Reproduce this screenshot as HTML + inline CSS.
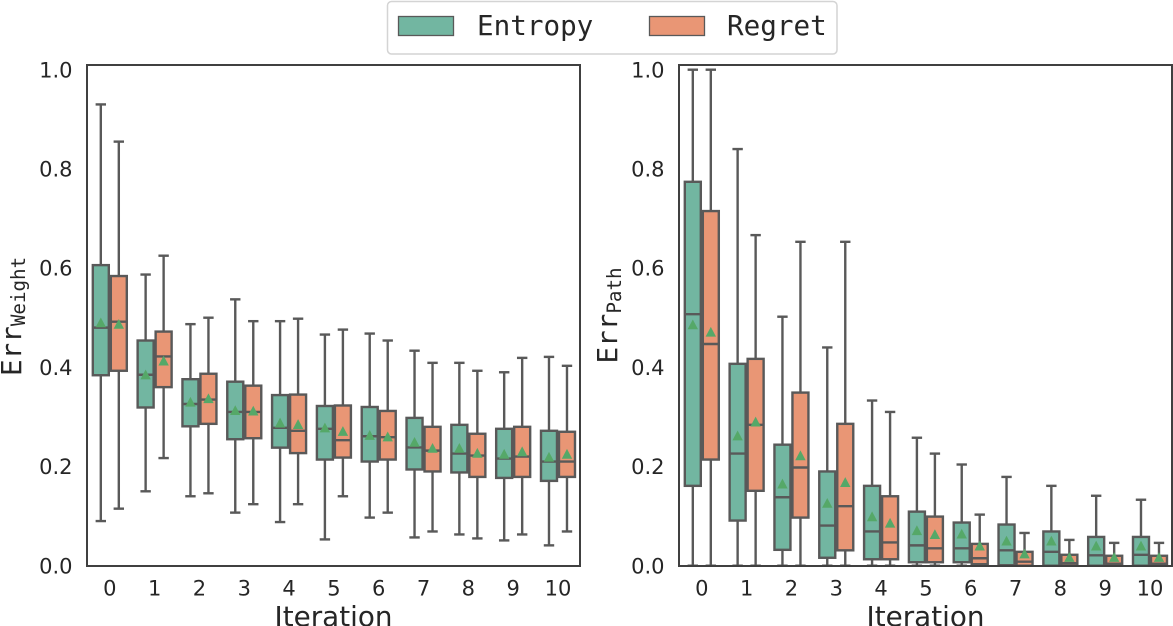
<!DOCTYPE html>
<html lang="en">
<head>
<meta charset="utf-8">
<title>Err Weight and Err Path by Iteration</title>
<style>
html,body{margin:0;padding:0;background:#fff;width:1173px;height:626px;overflow:hidden}
svg{display:block}
text{fill:#262626;font-family:"DejaVu Sans","Liberation Sans",sans-serif}
.mono{font-family:"DejaVu Sans Mono","Liberation Mono",monospace}
</style>
</head>
<body>
<svg id="chart" xmlns="http://www.w3.org/2000/svg" width="1173" height="626" viewBox="0 0 1173 626">
  <g id="panel-weight"></g>
  <g id="panel-path"></g>
  <g>
    <rect x="387.5" y="1.5" width="449.5" height="52.5" rx="4" fill="#fff" stroke="#d4d4d4" stroke-width="1.5"/>
    <g>
      <rect x="398.5" y="16.5" width="55" height="19" fill="#72b6a1" stroke="#595959" stroke-width="1.3"/>
      <text class="mono" x="477" y="35" font-size="27.6">Entropy</text>
    </g>
    <g>
      <rect x="649.5" y="16.5" width="55" height="19" fill="#e99675" stroke="#595959" stroke-width="1.3"/>
      <text class="mono" x="727" y="35" font-size="27.6">Regret</text>
    </g>
  </g>
</svg>
<script>
const categories = ['0','1','2','3','4','5','6','7','8','9','10'];
const yTickLabels = ['0.0','0.2','0.4','0.6','0.8','1.0'];
const yTickValues = [0,0.2,0.4,0.6,0.8,1];

const weightEntropyHigh = [.93,.587,.487,.537,.493,.466,.468,.4335,.409,.39,.421];
const weightEntropyQ3 = [.606,.454,.376,.371,.344,.322,.32,.298,.284,.276,.272];
const weightEntropyMedian = [.48,.385,.326,.31,.278,.276,.261,.2385,.226,.216,.21];
const weightEntropyQ1 = [.384,.319,.281,.255,.238,.214,.21,.194,.188,.177,.171];
const weightEntropyLow = [.09,.15,.14,.107,.088,.053,.097,.057,.063,.051,.041];
const weightEntropyMean = [.49,.385,.33,.313,.288,.278,.263,.249,.237,.225,.219];

const weightRegretHigh = [.855,.625,.5,.493,.498,.476,.454,.409,.393,.419,.403];
const weightRegretQ3 = [.584,.472,.387,.363,.345,.323,.312,.28,.266,.28,.27];
const weightRegretMedian = [.492,.422,.335,.31,.272,.253,.259,.232,.222,.22,.21];
const weightRegretQ1 = [.393,.36,.286,.257,.227,.218,.214,.19,.179,.179,.179];
const weightRegretLow = [.115,.217,.146,.124,.124,.14,.107,.069,.055,.063,.069];
const weightRegretMean = [.487,.413,.337,.312,.285,.271,.26,.237,.227,.23,.225];

const pathEntropyHigh = [1,.84,.502,.44,.333,.258,.204,.179,.161,.141,.133];
const pathEntropyQ3 = [.774,.407,.244,.19,.161,.109,.087,.083,.069,.058,.058];
const pathEntropyMedian = [.507,.226,.138,.081,.069,.041,.035,.031,.028,.021,.022];
const pathEntropyQ1 = [.161,.091,.032,.016,.013,.007,.007,.001,0,0,0];
const pathEntropyLow = [0,0,0,0,0,0,0,0,0,0,0];
const pathEntropyMean = [.486,.262,.165,.126,.099,.071,.064,.05,.05,.04,.04];

const pathRegretHigh = [1,.6665,.653,.653,.31,.226,.103,.066,.052,.046,.046];
const pathRegretQ3 = [.715,.417,.349,.286,.14,.099,.044,.028,.022,.02,.02];
const pathRegretMedian = [.447,.284,.198,.12,.047,.035,.015,.008,.005,.004,.004];
const pathRegretQ1 = [.214,.151,.097,.031,.013,.007,.003,0,0,0,0];
const pathRegretLow = [0,0,0,0,0,0,0,0,0,0,0];
const pathRegretMean = [.471,.29,.222,.168,.086,.063,.04,.024,.017,.017,.017];

const NS = 'http://www.w3.org/2000/svg';
const LINE = '#595959';
const plotTop = 65;
const plotBottom = 566;
const plotWidth = 493;

function yScale(v) { return 565.7 - v * 496; }

function make(parent, tag, attrs, txt) {
  const el = document.createElementNS(NS, tag);
  for (const k in attrs) el.setAttribute(k, attrs[k]);
  if (txt !== undefined) el.textContent = txt;
  parent.appendChild(el);
  return el;
}

function drawBox(g, cx, i, s, fill, label) {
  const group = make(g, 'g', {});
  
  
  const st = {stroke: LINE, 'stroke-width': 2.4, fill: 'none'};
  const hw = 8;
  const cap = 5.2;
  make(group, 'line', Object.assign({x1: cx, x2: cx, y1: yScale(s.hi[i]), y2: yScale(s.q3[i])}, st));
  make(group, 'line', Object.assign({x1: cx, x2: cx, y1: yScale(s.q1[i]), y2: yScale(s.lo[i])}, st));
  make(group, 'line', Object.assign({x1: cx - cap, x2: cx + cap, y1: yScale(s.hi[i]), y2: yScale(s.hi[i])}, st));
  make(group, 'line', Object.assign({x1: cx - cap, x2: cx + cap, y1: yScale(s.lo[i]), y2: yScale(s.lo[i])}, st));
  make(group, 'rect', {x: cx - hw, y: yScale(s.q3[i]), width: hw * 2, height: yScale(s.q1[i]) - yScale(s.q3[i]), fill: fill, stroke: LINE, 'stroke-width': 2.4});
  make(group, 'line', Object.assign({x1: cx - hw, x2: cx + hw, y1: yScale(s.med[i]), y2: yScale(s.med[i])}, st));
  const my = yScale(s.mean[i]);
  make(group, 'polygon', {points: (cx - 5.2) + ',' + (my + 4.6) + ' ' + (cx + 5.2) + ',' + (my + 4.6) + ' ' + cx + ',' + (my - 5.2), fill: '#55a868'});
}

function drawPanel(g, left, entropy, regret, titleMain, titleSub, titleX, titleY) {
  const band = plotWidth / categories.length;
  const xScale = function (i) { return left + (i + 0.5) * band + 0.4; };

  yTickValues.forEach(function (v, k) {
    const t = make(g, 'text', {x: left - 14.5, y: yScale(v) + 7.6, 'text-anchor': 'end', 'font-size': 21}, yTickLabels[k]);
    
    
  });

  categories.forEach(function (c, i) {
    drawBox(g, xScale(i) - 9, i, entropy, '#72b6a1', 'entropy');
    drawBox(g, xScale(i) + 9, i, regret, '#e99675', 'regret');
    const t = make(g, 'text', {x: xScale(i), y: 595.5, 'text-anchor': 'middle', 'font-size': 21}, c);
    
    
  });

  const frame = make(g, 'rect', {x: left, y: plotTop, width: plotWidth, height: plotBottom - plotTop, fill: 'none', stroke: '#404040', 'stroke-width': 2});
  
  

  const xt = make(g, 'text', {x: left + plotWidth / 2, y: 626, 'text-anchor': 'middle', 'font-size': 27.8}, 'Iteration');
  
  

  const yt = make(g, 'text', {transform: 'translate(' + titleX + ',' + titleY + ') rotate(-90)', class: 'mono', 'font-size': 27.6});
  
  
  make(yt, 'tspan', {}, titleMain);
  make(yt, 'tspan', {dy: 4, 'font-size': 19.2}, titleSub);
}

drawPanel(document.getElementById('panel-weight'), 87,
  {hi: weightEntropyHigh, q3: weightEntropyQ3, med: weightEntropyMedian, q1: weightEntropyQ1, lo: weightEntropyLow, mean: weightEntropyMean},
  {hi: weightRegretHigh, q3: weightRegretQ3, med: weightRegretMedian, q1: weightRegretQ1, lo: weightRegretLow, mean: weightRegretMean},
  'Err', 'Weight', 21, 376);

drawPanel(document.getElementById('panel-path'), 679,
  {hi: pathEntropyHigh, q3: pathEntropyQ3, med: pathEntropyMedian, q1: pathEntropyQ1, lo: pathEntropyLow, mean: pathEntropyMean},
  {hi: pathRegretHigh, q3: pathRegretQ3, med: pathRegretMedian, q1: pathRegretQ1, lo: pathRegretLow, mean: pathRegretMean},
  'Err', 'Path', 617, 363.5);
</script>
</body>
</html>
